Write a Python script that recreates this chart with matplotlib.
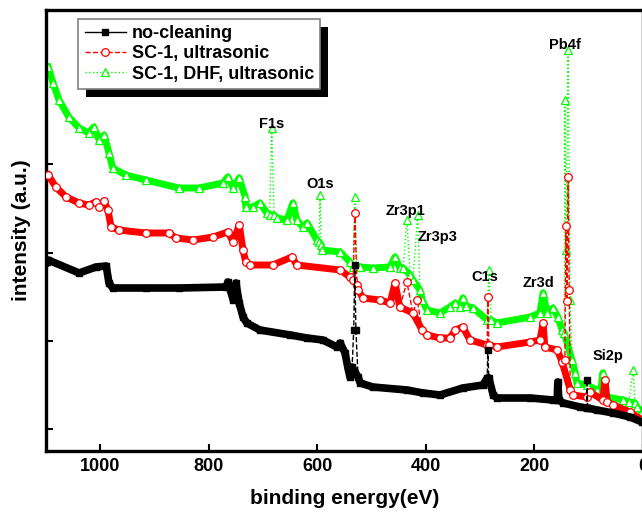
import matplotlib
matplotlib.use("Agg")
import matplotlib.pyplot as plt
from matplotlib.patches import Rectangle
from matplotlib.transforms import IdentityTransform

plt.rcParams['font.family'] = ['Liberation Sans', 'DejaVu Sans']
plt.rcParams['font.weight'] = 'bold'

# ---------------- data (binding energy eV, intensity a.u.) ----------------
black_E = [1098, 1096, 1039, 1008, 989, 984, 977, 916, 855, 768, 765, 755, 750, 744,
           737, 730, 706, 650, 619, 590, 564, 558, 549, 544, 540, 536, 533, 531, 529,
           525, 521, 498, 435, 405, 374, 332, 295, 287, 286, 284, 276, 269, 208, 166,
           158, 157, 155, 147, 116, 104, 103, 102, 85, 55, 24, 2]
black_I = [189, 191, 178, 184, 185, 168, 163, 163, 163, 164, 169, 151, 168, 148,
           134, 128, 121, 116, 113, 111, 104, 108, 98, 84, 74, 84, 121, 186, 121,
           74, 68, 64, 61, 58, 56, 63, 66, 73, 101, 73, 56, 53, 53, 51,
           51, 69, 51, 48, 44, 43, 71, 43, 41, 38, 34, 29]

red_E = [1096, 1082, 1063, 1039, 1021, 1008, 1002, 993, 986, 980, 966, 916, 873, 861,
         829, 792, 765, 755, 744, 737, 732, 724, 682, 647, 638, 558, 540, 534, 531,
         527, 525, 516, 485, 466, 457, 448, 435, 424, 416, 407, 398, 374, 356, 346,
         332, 319, 287, 286, 284, 269, 208, 190, 184, 181, 158, 149, 144, 142, 140,
         138, 136, 134, 129, 103, 98, 74, 70, 66, 55, 24, 2]
red_I = [276, 264, 254, 248, 246, 249, 244, 250, 241, 224, 221, 218, 218, 213,
         211, 214, 219, 209, 226, 201, 189, 186, 186, 194, 186, 181, 174, 171, 238,
         166, 161, 153, 151, 148, 168, 144, 169, 138, 151, 121, 116, 113, 113, 121,
         124, 111, 106, 154, 106, 104, 109, 111, 128, 104, 101, 89, 91, 225, 150,
         274, 161, 61, 56, 54, 59, 51, 71, 49, 46, 39, 31]

green_E = [1096, 1087, 1076, 1058, 1039, 1021, 1012, 1002, 993, 984, 977, 953, 916, 855,
           818, 774, 765, 755, 744, 733, 732, 719, 706, 693, 688, 684, 680, 674, 656,
           645, 638, 627, 619, 601, 597, 595, 593, 591, 558, 540, 534, 531, 527, 521,
           498, 466, 457, 448, 442, 435, 429, 424, 415, 411, 407, 398, 374, 356, 346,
           337, 332, 326, 313, 287, 284, 280, 269, 208, 190, 184, 177, 166, 157, 149,
           145, 144, 142, 138, 134, 131, 125, 122, 103, 85, 78, 74, 70, 66, 37, 26,
           18, 15, 11, 2]
green_I = [384, 368, 351, 334, 323, 318, 324, 311, 316, 298, 283, 276, 271, 263,
           263, 268, 274, 263, 273, 254, 244, 244, 248, 238, 236, 323, 236, 233, 231,
           248, 231, 224, 228, 211, 209, 256, 206, 201, 199, 189, 184, 254, 184, 184,
           183, 184, 194, 183, 183, 231, 176, 171, 236, 161, 151, 141, 138, 144, 148,
           144, 153, 145, 143, 131, 181, 131, 128, 134, 138, 158, 138, 143, 134, 121,
           118, 351, 201, 401, 151, 91, 78, 68, 66, 61, 59, 78, 58, 54, 51, 49,
           81, 48, 44, 39]

series_labels = ['no-cleaning', 'SC-1, ultrasonic', 'SC-1, DHF, ultrasonic']

peak_labels = ['F1s', 'O1s', 'Zr3p1', 'Zr3p3', 'C1s', 'Zr3d', 'Pb4f', 'Si2p']
peak_label_E = [684, 595, 437, 378, 291, 193, 144, 64]
peak_label_I = [327, 267, 240, 214, 174, 168, 406, 95]

x_ticks = [1000, 800, 600, 400, 200, 0]
y_ticks = [22, 110, 198, 287, 375]


def baseline(E, I, thr=25):
    """Drop narrow peaks so the thick background band does not cover them."""
    E, I = list(E), list(I)
    changed = True
    while changed:
        changed = False
        keep = [True] * len(I)
        for k in range(1, len(I) - 1):
            lo, hi = I[k - 1], I[k + 1]
            if I[k] >= max(lo, hi) and I[k] - min(lo, hi) > thr:
                keep[k] = False
                changed = True
        E = [e for e, m in zip(E, keep) if m]
        I = [v for v, m in zip(I, keep) if m]
    return E, I


# ---------------- figure ----------------
fig = plt.figure(figsize=(6.42, 5.14), dpi=100)
ax = fig.add_axes([46 / 642, 63 / 514, 597 / 642, 441 / 514])

GREEN = '#00ff00'
RED = '#ff0000'

# green (bottom)
bE, bI = baseline(green_E, green_I)
ax.plot(bE, bI, color=GREEN, lw=5, zorder=2)
ax.plot(green_E, green_I, color=GREEN, lw=1, ls=':', marker='^', ms=6,
        mfc='white', mec=GREEN, mew=0.9, zorder=2.1, label=series_labels[2])
# red
bE, bI = baseline(red_E, red_I)
ax.plot(bE, bI, color=RED, lw=5, zorder=3)
ax.plot(red_E, red_I, color=RED, lw=1, ls='--', marker='o', ms=5.5,
        mfc='white', mec=RED, mew=0.9, zorder=3.1, label=series_labels[1])
# black (top)
bE, bI = baseline(black_E, black_I)
ax.plot(bE, bI, color='black', lw=5.5, zorder=4)
ax.plot(black_E, black_I, color='black', lw=1, ls='--', marker='s', ms=4.5,
        mfc='black', mec='black', zorder=4.1)
# legend proxy for black (solid line)
ax.plot([], [], color='black', lw=1, ls='-', marker='s', ms=4.5,
        label=series_labels[0])

ax.set_xlim(1100, 0)
ax.set_ylim(0, 441)
ax.set_xticks(x_ticks)
ax.set_xticklabels([str(v) for v in x_ticks], fontsize=13, fontweight='bold')
ax.set_yticks(y_ticks)
ax.set_yticklabels([])
ax.tick_params(axis='both', direction='in', length=5, width=1.5, pad=5)
for s in ax.spines.values():
    s.set_linewidth(2.4)

ax.set_xlabel('binding energy(eV)', fontsize=15, fontweight='bold', labelpad=10)
ax.set_ylabel('intensity (a.u.)', fontsize=15, fontweight='bold', labelpad=6)

for t, e, i in zip(peak_labels, peak_label_E, peak_label_I):
    ax.text(e, i, t, fontsize=10.5, fontweight='bold', ha='center', va='center',
            zorder=6)

handles, labels = ax.get_legend_handles_labels()
hmap = dict(zip(labels, handles))
leg = ax.legend([hmap[l] for l in series_labels], series_labels,
                loc='upper left', bbox_to_anchor=(0.054, 0.98), borderaxespad=0,
                prop={'family': 'Liberation Sans', 'weight': 'bold', 'size': 13},
                frameon=True, fancybox=False, edgecolor='#808080',
                facecolor='white', framealpha=1,
                handlelength=2.3, handletextpad=0.3, labelspacing=0.18,
                borderpad=0.35)
leg.get_frame().set_linewidth(1.2)
leg.set_zorder(7)

fig.canvas.draw()
bb = leg.get_window_extent()
shadow = Rectangle((bb.x0 + 8, bb.y0 - 8), bb.width, bb.height,
                   transform=IdentityTransform(), facecolor='black',
                   edgecolor='none', zorder=6.9, clip_on=False)
ax.add_patch(shadow)

fig.savefig('out.png', dpi=100)
